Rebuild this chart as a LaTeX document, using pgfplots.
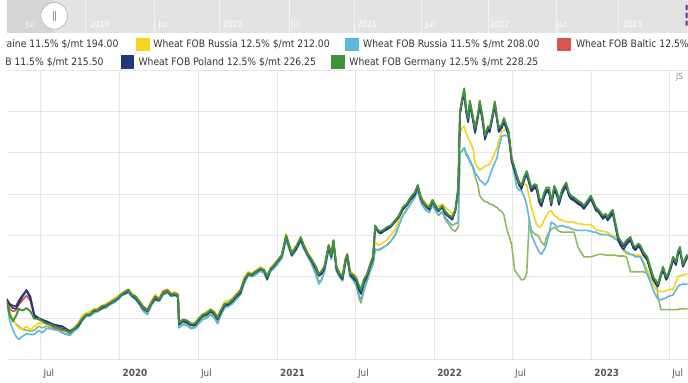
\documentclass[border=0pt]{standalone}
\usepackage{fontspec}
\setmainfont{DejaVu Sans}
\newfontfamily\condfont{DejaVu Sans Condensed}
\usepackage{pgfplots}
\pgfplotsset{compat=1.18}
\usepackage{pgfplotstable}

\definecolor{ukrc}{HTML}{93B95E}
\definecolor{rus125}{HTML}{F7D31C}
\definecolor{rus115}{HTML}{5BB8DC}
\definecolor{balc}{HTML}{D9534F}
\definecolor{romc}{HTML}{4B2C7A}
\definecolor{polc}{HTML}{1F3A7A}
\definecolor{gerc}{HTML}{43913F}
\definecolor{gridc}{HTML}{E6E6E6}
\definecolor{labelc}{HTML}{555555}
\definecolor{legtext}{HTML}{333333}
\definecolor{scrollbg}{HTML}{E3E3E3}
\definecolor{scrolldark}{HTML}{D5D5D5}

% day = days since 2019-01-01; prices in $/mt
\pgfplotstableread{
day G P B Q Y C U
103 220 222 221 223 221 220 218
110 204 216 211 217 208 196 204
117 196 212 208 215 199 186 197
124 202 211 209 214 192 178 193
131 211 218 216 221 188 174 190
140 209 226 222 228 186 178 186
149 212 233 227 234 190 181 185
158 208 223 220 226 185 180 184
167 199 202 202 204 190 180 185
177 199 199 198 200 194 185 190
186 196 197 196 198 193 182 188
195 193 196 194 196 194 187 190
204 192 194 191 193 191 187 188
213 190 192 188 191 190 186 186
223 188 191 187 190 186 185 185
232 186 190 185 187 185 182 182
241 185 187 184 186 184 180 181
250 182 184 182 184 185 179 180
259 187 186 187 187 188 184 185
269 192 190 192 191 194 188 190
278 199 197 199 198 203 197 198
287 204 203 204 204 206 202 202
296 204 204 205 204 208 202 203
305 209 208 209 209 211 206 206
315 210 209 210 210 212 208 208
324 214 212 214 214 215 211 211
333 215 214 215 215 217 212 214
342 218 217 218 218 220 216 217
351 221 220 221 221 223 218 220
361 224 223 224 224 227 222 223
370 229 228 229 229 230 227 228
379 232 230 232 232 233 229 230
386 234 233 234 234 235 230 232
393 228 227 228 228 230 226 227
402 226 224 226 226 227 222 223
411 220 218 220 220 221 216 217
420 212 211 214 212 214 208 210
430 209 208 210 209 211 204 206
439 218 217 218 218 221 215 216
448 226 223 226 226 228 222 223
457 222 221 223 222 224 220 221
466 230 229 232 230 233 228 229
476 233 232 234 233 235 230 232
485 228 227 229 228 230 226 227
494 229 228 230 229 232 227 228
501 227 226 228 227 229 224 226
503 194 192 193 193 194 188 190
512 198 196 197 197 198 192 193
522 197 194 196 196 197 191 192
531 193 191 192 192 193 187 188
540 193 191 192 192 194 188 190
549 199 197 198 198 200 193 194
558 204 202 203 203 205 198 199
568 206 204 205 205 208 200 202
577 210 208 209 209 211 204 205
586 206 204 205 205 208 199 202
593 200 198 199 199 202 193 196
600 209 206 208 208 210 203 204
609 217 215 216 216 220 212 214
618 218 216 217 217 221 214 215
627 222 220 221 221 224 217 218
637 228 226 227 227 230 223 224
646 233 230 232 232 235 228 229
655 247 245 246 246 250 242 244
664 254 253 254 253 256 251 251
673 253 252 253 252 254 250 250
683 257 256 257 256 258 253 253
692 260 259 260 259 262 257 257
701 258 257 258 257 259 254 254
708 250 247 250 248 251 246 246
715 259 258 259 258 260 256 256
724 264 263 264 263 265 260 260
733 270 269 270 269 271 266 266
742 276 275 276 275 277 272 272
752 300 298 299 299 302 295 295
759 288 286 287 287 290 284 284
765 278 276 278 277 281 275 275
775 286 283 286 284 287 282 282
782 293 290 293 292 294 289 289
786 298 295 296 296 298 293 293
793 288 286 288 287 289 284 284
802 278 276 278 277 280 275 275
811 271 269 271 270 272 266 266
821 262 259 262 260 263 252 254
828 253 251 253 252 254 241 244
834 256 253 256 254 257 245 246
841 262 259 262 260 263 256 256
851 288 286 288 287 289 283 283
857 276 274 276 275 277 271 271
862 294 292 294 293 295 289 289
869 262 259 262 260 263 257 257
876 254 252 254 253 256 250 250
883 250 247 250 248 251 245 245
890 271 269 271 270 272 266 266
894 277 275 277 276 278 272 272
901 254 252 254 253 257 250 250
908 252 248 252 251 254 246 246
915 248 244 247 246 250 240 239
922 238 233 236 235 239 226 223
926 234 229 233 232 235 222 218
933 247 242 246 245 247 235 233
940 253 250 252 251 254 245 244
947 264 262 264 263 266 257 256
954 274 271 274 272 276 266 265
959 312 310 311 311 292 283 283
966 306 304 305 305 288 283 282
972 305 302 304 304 289 284 283
979 307 305 306 306 292 286 286
986 310 307 308 308 294 288 288
995 312 310 311 311 300 293 293
1005 318 316 317 317 307 300 300
1014 324 322 323 323 319 312 312
1023 334 331 332 332 330 324 324
1032 338 336 337 337 336 331 331
1041 346 343 344 344 344 338 338
1051 352 349 350 350 352 346 346
1058 361 359 360 360 360 355 355
1064 348 346 347 347 349 342 342
1069 342 340 341 341 344 336 336
1078 336 334 335 335 338 330 330
1085 334 331 332 332 337 328 328
1092 343 341 342 342 343 337 337
1099 336 334 335 335 338 330 330
1106 331 329 330 330 335 325 324
1115 336 334 334 335 338 329 328
1122 329 326 326 328 334 322 319
1129 325 323 323 324 331 317 314
1138 322 319 319 320 326 312 307
1145 331 329 329 330 330 314 305
1152 358 354 355 356 346 316 310
1156 450 446 448 448 424 400 400
1161 466 461 463 463 430 403 402
1166 478 472 474 474 432 406 406
1170 454 450 451 451 424 400 398
1175 442 437 439 439 418 396 394
1179 463 458 461 461 414 391 389
1186 444 439 442 442 406 384 382
1191 430 424 426 426 388 376 372
1198 448 443 445 445 382 371 360
1202 463 458 461 461 379 367 348
1209 442 436 439 438 382 364 343
1214 421 416 419 419 384 361 341
1221 432 427 430 430 385 366 340
1225 430 425 427 427 386 372 338
1232 448 443 445 445 394 382 337
1237 462 457 460 460 400 388 335
1242 444 439 442 442 406 394 334
1246 430 425 432 427 415 406 331
1253 434 430 432 432 426 420 329
1258 442 437 439 439 427 421 325
1265 432 427 430 430 430 421 307
1269 426 421 424 424 424 418 301
1276 394 390 391 391 394 390 289
1283 382 378 379 379 376 372 258
1288 373 370 371 371 367 358 254
1294 364 360 361 361 360 355 250
1299 361 356 358 359 360 354 246
1306 372 368 370 370 362 346 247
1311 378 374 376 376 361 337 254
1317 367 362 365 365 346 319 319
1322 358 353 354 355 334 301 306
1329 362 358 359 360 322 292 302
1334 361 355 358 359 313 286 301
1340 346 340 342 343 310 280 298
1345 340 335 336 337 311 277 292
1352 352 347 348 349 319 283 288
1357 358 353 354 355 324 289 298
1363 358 352 355 355 329 302 304
1368 340 336 337 337 330 316 307
1375 360 355 358 358 324 314 310
1382 352 347 349 349 322 310 307
1386 342 337 338 340 319 311 305
1393 355 350 353 353 319 312 304
1398 360 355 358 358 317 311 304
1403 364 359 361 361 317 310 304
1409 352 348 349 349 316 310 304
1414 348 344 346 346 316 308 304
1421 346 342 343 343 316 307 304
1430 342 338 340 340 314 306 286
1437 340 336 337 337 314 306 280
1444 336 332 334 334 313 306 274
1451 341 337 338 338 313 306 274
1460 348 344 346 346 313 305 274
1467 340 336 337 337 310 304 275
1472 334 330 331 331 307 304 276
1478 331 328 329 329 306 302 277
1488 324 320 322 322 305 301 277
1495 326 323 324 324 304 301 276
1499 322 318 319 319 304 301 276
1506 328 323 325 325 301 299 276
1511 331 326 329 329 300 298 276
1518 313 308 311 311 298 295 276
1524 298 293 295 295 296 294 275
1531 292 286 289 289 288 288 275
1536 289 283 287 287 281 283 275
1543 294 289 292 292 277 280 274
1552 298 294 295 295 277 277 256
1559 288 284 286 286 277 276 256
1564 286 282 283 283 276 274 256
1570 290 287 288 288 276 274 256
1575 288 284 286 286 276 274 256
1582 280 276 277 277 269 266 256
1591 274 270 271 271 259 253 254
1598 262 258 259 259 250 244 248
1605 250 246 247 247 240 234 247
1612 244 240 241 241 234 226 246
1616 241 238 239 239 233 223 226
1623 254 251 252 252 232 222 210
1628 262 258 259 259 232 223 210
1635 250 246 247 247 233 224 210
1639 253 250 251 251 234 226 210
1646 264 260 262 262 235 227 210
1651 274 270 271 271 234 228 210
1658 268 264 265 265 244 234 210
1662 280 276 277 277 250 238 210
1667 286 282 283 283 251 240 211
1674 265 262 263 263 252 241 211
1681 274 270 271 271 253 241 211
1685 277 274 275 275 253 241 211
}\wheat

\begin{document}
\begin{tikzpicture}
\begin{scope}[x=1bp,y=1bp]
\useasboundingbox (0,0) rectangle (688,387);
\clip (0,0) rectangle (688,387);
% scrollbar
\fill[scrollbg] (0,354) rectangle (688,387);
\fill[scrolldark] (0,354) rectangle (48,387);
\foreach \sx in {79,149,215,285,351,419,487,555,618}
  \draw[white,opacity=0.6,line width=0.6bp] (\sx,354) -- (\sx,387);
\foreach \sx/\st in {24/Jul,94/2019,158/Jul,228/2020,292/Jul,364/2021,428/Jul,498/2022,561/Jul,632/2023}
  \node[text=white,font=\condfont\fontsize{8.6}{9}\selectfont,inner sep=0pt] at (\sx,362) {\st};
\fill[white] (48,371) circle (13.5);
\draw[black!30,line width=0.6bp] (48,371) circle (13.5);
\draw[black!40,line width=0.7bp] (46.6,366) -- (46.6,376) (49.4,366) -- (49.4,376);
\fill[romc!80!magenta] (686,377) rectangle (688,382) (686,369) rectangle (688,374) (686,361) rectangle (688,366);
% legend
\begin{scope}[every node/.style={text=legtext,font=\condfont\fontsize{10.4}{12}\selectfont,inner sep=0pt}]
\node[anchor=east] at (113,342) {Wheat FOB Ukraine 11.5\% \$/mt 194.00};
\fill[rus125] (131,335) rectangle (145,349);
\node[anchor=west] at (148,342) {Wheat FOB Russia 12.5\% \$/mt 212.00};
\fill[rus115] (342,335) rectangle (356,349);
\node[anchor=west] at (360,342) {Wheat FOB Russia 11.5\% \$/mt 208.00};
\fill[balc] (556,335) rectangle (570,349);
\node[anchor=west] at (575,342) {Wheat FOB Baltic 12.5\% \$/mt 221.00};
\node[anchor=east] at (98,324) {Wheat Romania FOB 11.5\% \$/mt 215.50};
\fill[polc] (115,317) rectangle (129,331);
\node[anchor=west] at (133,324) {Wheat FOB Poland 12.5\% \$/mt 226.25};
\fill[gerc] (328,317) rectangle (342,331);
\node[anchor=west] at (346,324) {Wheat FOB Germany 12.5\% \$/mt 228.25};
\end{scope}
\node[text=black!45,font=\condfont\fontsize{8.5}{9}\selectfont,inner sep=0pt] at (680,308.5) {JS};
\end{scope}

\begin{axis}[
  at={(0bp,24bp)}, anchor=south west,
  width=688bp, height=292bp, scale only axis,
  xmin=103, xmax=1685, ymin=150, ymax=500,
  axis line style={draw=none},
  xtick={181,365,547,731,912,1096,1277,1461,1642},
  xticklabels={Jul,\textbf{2020},Jul,\textbf{2021},Jul,\textbf{2022},Jul,\textbf{2023},Jul},
  ytick={150,200,...,500},
  yticklabels={},
  grid=major,
  major grid style={draw=gridc,line width=0.7bp},
  major tick length=0pt,
  tick style={draw=none},
  xticklabel style={anchor=north west,inner sep=0pt,xshift=3bp,yshift=-9.5bp,
     font=\condfont\fontsize{10}{11}\selectfont,text=labelc},
  every axis plot/.append style={line join=round,line cap=round},
]
\addplot[ukrc,line width=1.6bp] table[x=day,y=U]{\wheat};
\addplot[rus125,line width=1.6bp] table[x=day,y=Y]{\wheat};
\addplot[rus115,line width=1.6bp] table[x=day,y=C]{\wheat};
\addplot[balc,line width=1.6bp] table[x=day,y=B]{\wheat};
\addplot[romc,line width=1.6bp] table[x=day,y=Q]{\wheat};
\addplot[polc,line width=1.6bp] table[x=day,y=P]{\wheat};
\addplot[gerc,line width=1.9bp] table[x=day,y=G]{\wheat};
\end{axis}
\end{tikzpicture}
\end{document}
